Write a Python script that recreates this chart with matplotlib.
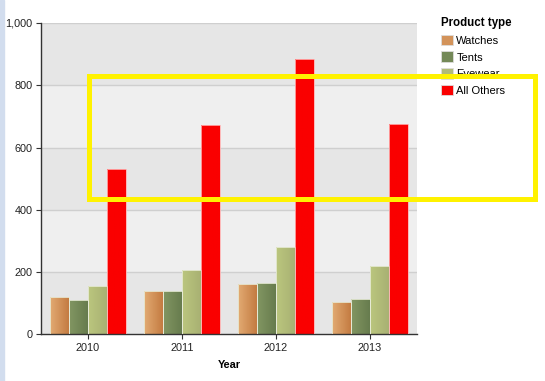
import matplotlib.pyplot as plt
import numpy as np
from matplotlib.colors import LinearSegmentedColormap
from matplotlib.patches import Rectangle

plt.rcParams["font.family"] = ["Liberation Sans", "DejaVu Sans"]

years = ["2010", "2011", "2012", "2013"]
series = ["Watches", "Tents", "Eyewear", "All Others"]
watches = [120, 140, 161, 105]
tents = [109, 138, 166, 114]
eyewear = [154, 207, 282, 221]
all_others = [530, 672, 884, 675]
yticks = [0, 200, 400, 600, 800, 1000]

# left / right shades for the gradient fill of each series
shades = [("#e2aa72", "#c47c42"), ("#829662", "#677c4e"), ("#bbc67e", "#a8b173"), ("#fa0000", "#fa0000")]

fig = plt.figure(figsize=(5.45, 3.81), dpi=100)
fig.patches.append(Rectangle((0, 0), 4 / 545, 1, transform=fig.transFigure, color="#d2ddee", zorder=0))
ax = fig.add_axes([41 / 545, 1 - 334.3 / 381, 376 / 545, (334.3 - 23) / 381])

# alternating bands between grid lines
for i in range(len(yticks) - 1):
    ax.axhspan(yticks[i], yticks[i + 1], color="#e6e6e6" if i % 2 == 0 else "#efefef", lw=0, zorder=0)
for v in yticks[1:]:
    ax.axhline(v, color="#cfcfcf", lw=1.0, zorder=1)

x = np.arange(len(years))
width = 0.2
handles = []
for k, (name, vals) in enumerate(zip(series, [watches, tents, eyewear, all_others])):
    left, right = shades[k]
    bars = ax.bar(x + (k - 1.5) * width, vals, width, color=right, edgecolor="none", zorder=2, label=name)
    cmap = LinearSegmentedColormap.from_list(name, [left, right])
    for b in bars:
        bx, by = b.get_x(), b.get_y()
        im = ax.imshow(np.linspace(0, 1, 32).reshape(1, -1), cmap=cmap, aspect="auto",
                       extent=(bx, bx + b.get_width(), by, by + b.get_height()), zorder=2.5)
        im.set_clip_path(b)
        edge = Rectangle((bx, by), b.get_width(), b.get_height(), fill=False,
                         edgecolor="#ffb0b0" if k == 3 else "#e8ecd8", lw=0.6, zorder=3)
        ax.add_patch(edge)
    mid = cmap(0.5)
    handles.append(Rectangle((0, 0), 1, 1, facecolor=mid, edgecolor="#dddddd", lw=0.6))

ax.set_xlim(-0.5, len(years) - 0.5)
ax.set_ylim(0, 1000)
ax.set_xticks(x)
ax.set_xticklabels(years)
ax.set_yticks(yticks)
ax.set_yticklabels([f"{v:,}" for v in yticks])
ax.tick_params(axis="both", length=3.6, width=0.8, pad=2.5, color="#333333", labelsize=7.8, labelcolor="#222222")
for side in ("top", "right"):
    ax.spines[side].set_visible(False)
for side in ("left", "bottom"):
    ax.spines[side].set_color("#333333")
    ax.spines[side].set_linewidth(1.0)
ax.set_xlabel("Year", fontsize=7.8, fontweight="bold", labelpad=5)

leg = fig.legend(handles, series, loc="upper left", bbox_to_anchor=(433 / 545, 1 - 9.5 / 381),
                 frameon=False, fontsize=8, title="Product type", alignment="left",
                 title_fontproperties={"weight": "bold", "size": 8.3},
                 handlelength=1.1, handleheight=1.1, handletextpad=0.3, labelspacing=0.5,
                 borderpad=0.2)

# yellow highlight box
fig.patches.append(Rectangle((88.5 / 545, 1 - 198.5 / 381), (535 - 88.5) / 545, (198.5 - 76.5) / 381,
                             transform=fig.transFigure, fill=False, edgecolor="#fff200", lw=3.6, zorder=10))

fig.savefig("out.png", dpi=100)
